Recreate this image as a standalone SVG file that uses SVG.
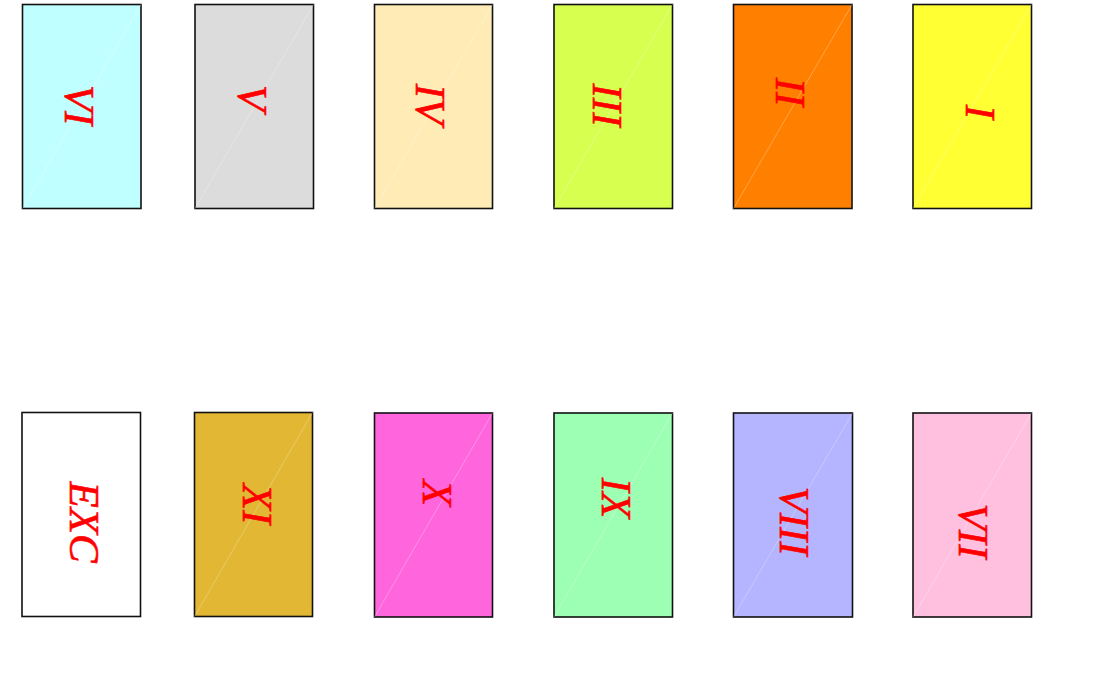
<svg xmlns="http://www.w3.org/2000/svg" width="1095" height="679" viewBox="0 0 1095 679">
<style>
.box{stroke:#111;stroke-width:1.6}
.seam{stroke:#fff;stroke-opacity:0.35;stroke-width:0.8}
.lbl{font-family:"Liberation Serif","Times New Roman",serif;font-style:italic;font-size:43px;fill:#ff0000;text-anchor:middle;stroke:#ff0000;stroke-width:0.6}
</style>
<rect width="1095" height="679" fill="#fff"/>
<g id="nodes">
<g id="n6"><rect class="box" x="22.5" y="4.5" width="118.5" height="204" fill="#c0ffff"/><line class="seam" x1="22.5" y1="208.5" x2="141" y2="4.5"/><text class="lbl" transform="translate(65,105) rotate(90)">VI</text></g>
<g id="n5"><rect class="box" x="195" y="4.5" width="118.5" height="204" fill="#dcdcdc"/><line class="seam" x1="195" y1="208.5" x2="313.5" y2="4.5"/><text class="lbl" transform="translate(237.5,98) rotate(90)">V</text></g>
<g id="n4"><rect class="box" x="374.5" y="4.5" width="118" height="204" fill="#ffebb5"/><line class="seam" x1="374.5" y1="208.5" x2="492.5" y2="4.5"/><text class="lbl" transform="translate(415.5,104) rotate(90)">IV</text></g>
<g id="n3"><rect class="box" x="554" y="4.5" width="118.5" height="204" fill="#d6ff4f"/><line class="seam" x1="554" y1="208.5" x2="672.5" y2="4.5"/><text class="lbl" transform="translate(592.5,105) rotate(90)">III</text></g>
<g id="n2"><rect class="box" x="733.5" y="4.5" width="118.5" height="204" fill="#ff8000"/><line class="seam" x1="733.5" y1="208.5" x2="852" y2="4.5"/><text class="lbl" transform="translate(775.5,92) rotate(90)">II</text></g>
<g id="n1"><rect class="box" x="913" y="4.5" width="118.5" height="204" fill="#ffff33"/><line class="seam" x1="913" y1="208.5" x2="1031.5" y2="4.5"/><text class="lbl" transform="translate(965.5,112) rotate(90)">I</text></g>
<g id="exc"><rect class="box" x="22" y="412.5" width="118.5" height="204" fill="#ffffff"/><text class="lbl" transform="translate(69.5,522) rotate(90)">EXC</text></g>
<g id="n11"><rect class="box" x="194.5" y="412.5" width="118" height="204" fill="#e1b733"/><line class="seam" x1="194.5" y1="616.5" x2="312.5" y2="412.5"/><text class="lbl" transform="translate(242.5,504) rotate(90)">XI</text></g>
<g id="n10"><rect class="box" x="374.5" y="413" width="118" height="204" fill="#ff66dd"/><line class="seam" x1="374.5" y1="617" x2="492.5" y2="413"/><text class="lbl" transform="translate(422.5,493) rotate(90)">X</text></g>
<g id="n9"><rect class="box" x="554" y="413" width="118.5" height="204" fill="#9cffb4"/><line class="seam" x1="554" y1="617" x2="672.5" y2="413"/><text class="lbl" transform="translate(601.5,498) rotate(90)">IX</text></g>
<g id="n8"><rect class="box" x="733.5" y="413" width="119" height="204" fill="#b4b4ff"/><line class="seam" x1="733.5" y1="617" x2="852.5" y2="413"/><text class="lbl" transform="translate(779.5,521) rotate(90)">VIII</text></g>
<g id="n7"><rect class="box" x="913" y="413" width="118.5" height="204" fill="#ffc0e0"/><line class="seam" x1="913" y1="617" x2="1031.5" y2="413"/><text class="lbl" transform="translate(958.5,531) rotate(90)">VII</text></g>
</g>
<g id="connectors"></g>
</svg>
